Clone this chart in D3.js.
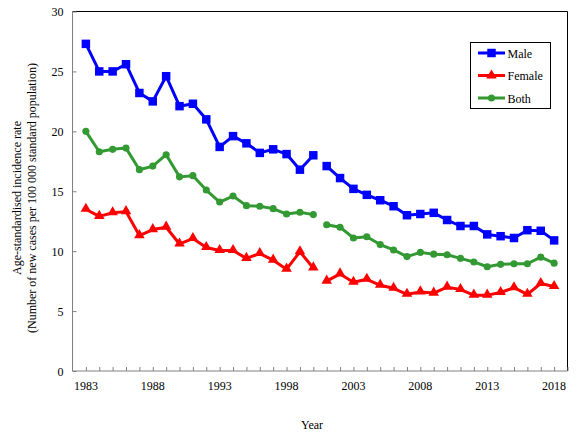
<!DOCTYPE html>
<html>
<head>
<meta charset="utf-8">
<script src="https://cdn.jsdelivr.net/npm/d3@7/dist/d3.min.js"></script>
<style>
html,body{margin:0;padding:0;background:#fff;}
svg{display:block;}
svg text{font-family:"Liberation Serif","Times New Roman","DejaVu Serif",serif;}
</style>
</head>
<body>
<svg id="chart" width="588" height="443"></svg>
<script>
const years = d3.range(1983, 2019);
const male = [27.3,25.0,25.0,25.6,23.2,22.5,24.6,22.1,22.3,21.0,18.7,19.6,19.0,18.2,18.5,18.1,16.8,18.0,
              17.1,16.1,15.2,14.7,14.25,13.75,13.0,13.1,13.2,12.6,12.1,12.1,11.4,11.25,11.1,11.75,11.7,10.9];
const female = [13.5,12.9,13.2,13.3,11.3,11.8,12.0,10.6,11.05,10.3,10.05,10.05,9.4,9.8,9.25,8.5,9.95,8.6,
                7.5,8.1,7.4,7.65,7.15,6.9,6.4,6.6,6.5,7.0,6.8,6.33,6.33,6.55,6.95,6.4,7.3,7.05];
const both = [20.0,18.3,18.5,18.6,16.8,17.1,18.05,16.2,16.3,15.1,14.1,14.6,13.8,13.75,13.55,13.1,13.25,13.05,
              12.2,12.0,11.1,11.2,10.55,10.1,9.55,9.9,9.75,9.7,9.4,9.1,8.7,8.9,8.95,8.95,9.5,9.0];
const seriesNames = ["Male","Female","Both"];
const xTickYears = [1983,1988,1993,1998,2003,2008,2013,2018];
const yTicks = [0,5,10,15,20,25,30];
const breakAfterYear = 2000;

const FONT = "'Liberation Serif','Times New Roman','DejaVu Serif',serif";
const FS = "12px";
const series = [
  {name:"Male", values:male, color:"#0000ff", marker:"square"},
  {name:"Female", values:female, color:"#ff0000", marker:"triangle"},
  {name:"Both", values:both, color:"#339933", marker:"circle"}
];

const svg = d3.select("#chart");
const L = 72.5, R = 567.5, T = 11.5, B = 371;
const x = d3.scaleLinear().domain([1982, 2019]).range([L, R]);
const y = d3.scaleLinear().domain([0, 30]).range([B, T]);

// frame top and right
svg.append("line").attr("x1",L).attr("x2",R).attr("y1",T).attr("y2",T).attr("stroke","#000");
svg.append("line").attr("x1",R).attr("x2",R).attr("y1",T).attr("y2",B).attr("stroke","#000");

// y axis
const yAxis = d3.axisRight(y).tickValues(yTicks).tickSize(4).tickFormat("");
const gy = svg.append("g").attr("transform",`translate(${L},0)`).call(yAxis);
gy.selectAll("path,line").attr("stroke","#808080");
gy.select(".domain").attr("d",`M0,${T}V${B}`);
svg.selectAll(".ylab").data(yTicks).enter().append("text")
  .attr("x", L-9).attr("y", d=>y(d)+4.5).attr("text-anchor","end")
  .attr("font-family",FONT).attr("font-size",FS).text(d=>d);

// x axis
const xAxis = d3.axisTop(x).tickValues(years.concat([2019])).tickSize(4).tickFormat("");
const gx = svg.append("g").attr("transform",`translate(0,${B})`).call(xAxis);
gx.selectAll("path,line").attr("stroke","#808080");
gx.select(".domain").attr("d",`M${L},0H${R}`);
svg.selectAll(".xlab").data(xTickYears).enter().append("text")
  .attr("x", d=>x(d)).attr("y", B+19).attr("text-anchor","middle")
  .attr("font-family",FONT).attr("font-size",FS).text(d=>d);

// axis titles
svg.append("text").attr("x", 312).attr("y", 429).attr("text-anchor","middle")
  .attr("font-family",FONT).attr("font-size",FS).text("Year");
const yt = svg.append("text").attr("transform","translate(0,198) rotate(-90)")
  .attr("text-anchor","middle").attr("font-family",FONT).attr("font-size",FS);
yt.append("tspan").attr("x",0).attr("y",21).text("Age-standardised incidence rate");
yt.append("tspan").attr("x",0).attr("y",36).text("(Number of new cases per 100 000 standard population)");

// lines
const line = d3.line().x(d=>x(d.year)).y(d=>y(d.value));
function markerPath(type){
  if(type==="square") return d3.symbol(d3.symbolSquare, 72)();
  if(type==="triangle") return d3.symbol(d3.symbolTriangle, 48)();
  return d3.symbol(d3.symbolCircle, 40)();
}
series.forEach(s=>{
  const pts = years.map((yr,i)=>({year:yr, value:s.values[i]}));
  const seg1 = pts.filter(p=>p.year<=breakAfterYear);
  const seg2 = pts.filter(p=>p.year>breakAfterYear);
  [seg1,seg2].forEach(seg=>{
    svg.append("path").attr("d", line(seg)).attr("fill","none")
      .attr("stroke", s.color).attr("stroke-width",3).attr("stroke-linejoin","round");
  });
  svg.selectAll(null).data(pts).enter().append("path")
    .attr("d", markerPath(s.marker))
    .attr("transform", d=>`translate(${x(d.year)},${y(d.value) + (s.marker==="triangle"?-0.5:0)})`)
    .attr("fill", s.color);
});

// legend
const lg = svg.append("g");
lg.append("rect").attr("x",470.5).attr("y",42.5).attr("width",80).attr("height",66)
  .attr("fill","#fff").attr("stroke","#000");
series.forEach((s,i)=>{
  const cy = 53 + i*22.5;
  lg.append("line").attr("x1",478).attr("x2",505).attr("y1",cy).attr("y2",cy)
    .attr("stroke",s.color).attr("stroke-width",3);
  lg.append("path").attr("d", markerPath(s.marker)).attr("transform",`translate(491.5,${cy})`).attr("fill",s.color);
  lg.append("text").attr("x",507.5).attr("y",cy+4.5).attr("font-family",FONT).attr("font-size",FS).text(seriesNames[i]);
});
</script>
</body>
</html>
